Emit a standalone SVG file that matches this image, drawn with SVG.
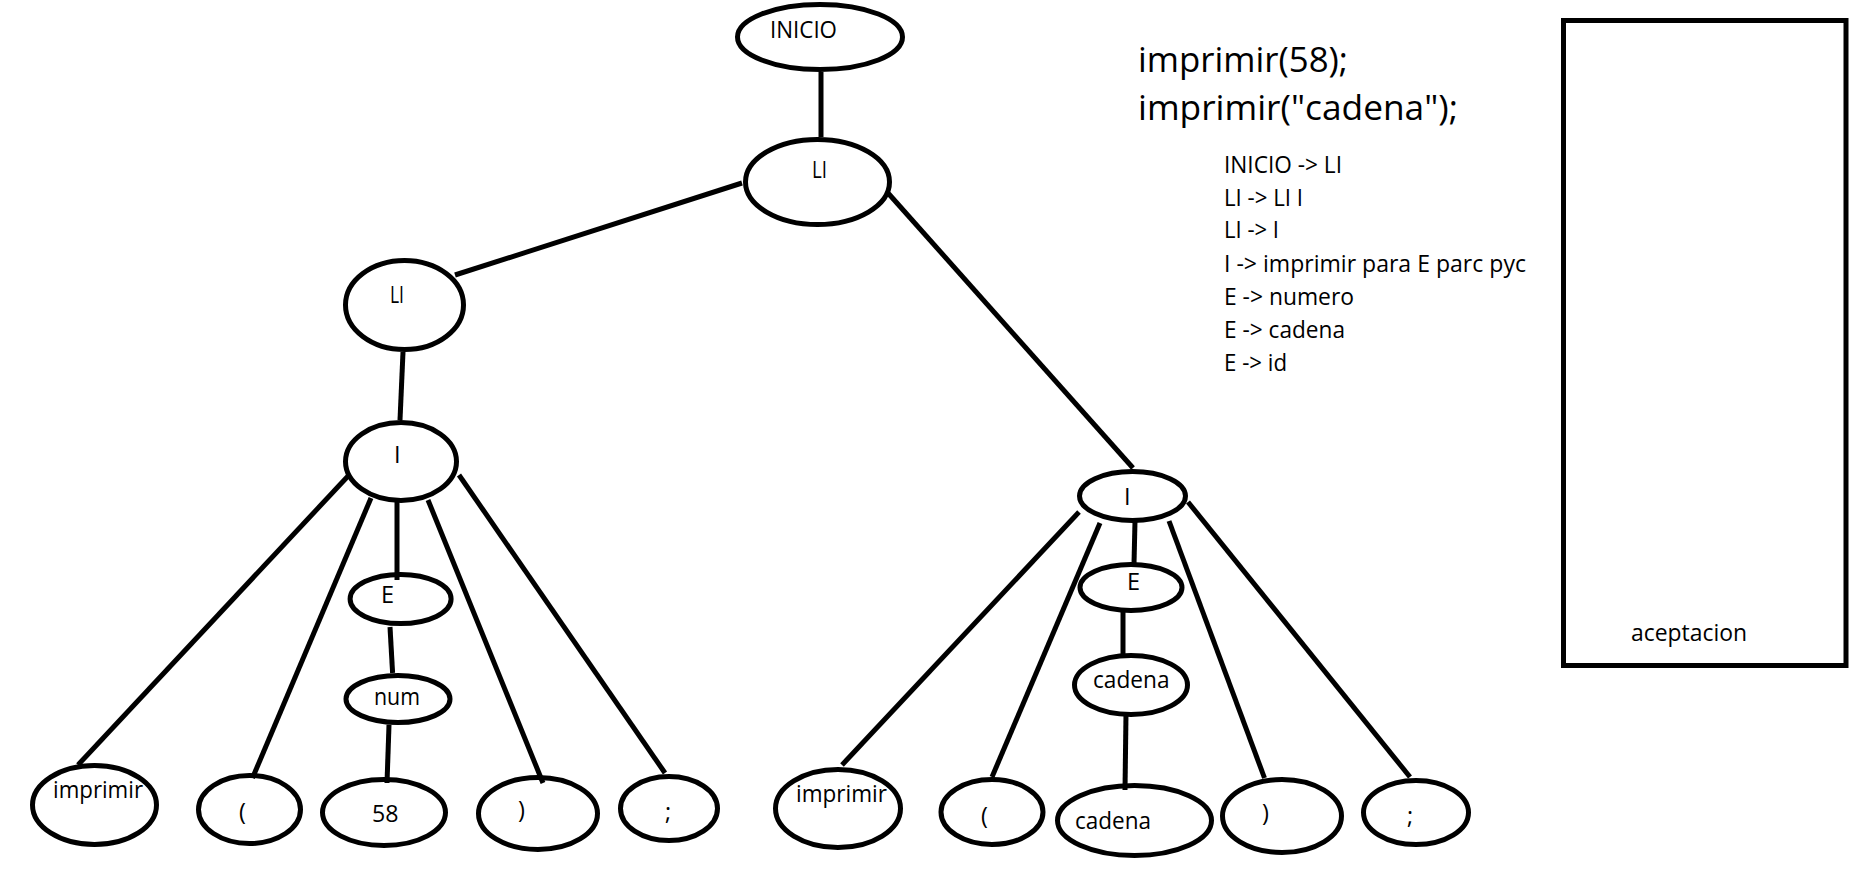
<svg xmlns="http://www.w3.org/2000/svg" width="1865" height="878" viewBox="0 0 1865 878">
<style>
.n{fill:none;stroke:#000;stroke-width:5}
.c line{stroke:#000;stroke-width:5;stroke-linecap:butt}
text{font-family:"Open Sans","Noto Sans","Liberation Sans",sans-serif;fill:#000}
.t{font-size:23.5px}
.b{font-size:35px}
</style>
<rect width="1865" height="878" fill="#fff"/>
<g class="c" id="connectors">
<line x1="821" y1="72" x2="821" y2="137"/>
<line x1="742" y1="183" x2="455" y2="275"/>
<line x1="888" y1="193" x2="1133" y2="468"/>
<line x1="403" y1="352" x2="400" y2="420"/>
<line x1="349" y1="475" x2="78" y2="765"/>
<line x1="371" y1="498" x2="252.5" y2="778"/>
<line x1="397" y1="498" x2="397" y2="580"/>
<line x1="390" y1="627" x2="392.6" y2="673"/>
<line x1="389" y1="725" x2="387" y2="783"/>
<line x1="428" y1="500" x2="543" y2="783"/>
<line x1="459" y1="475" x2="665" y2="773"/>
<line x1="1079" y1="512" x2="842" y2="765"/>
<line x1="1100" y1="523" x2="992" y2="777"/>
<line x1="1135" y1="521" x2="1134" y2="564"/>
<line x1="1123" y1="610" x2="1123" y2="656"/>
<line x1="1126" y1="714" x2="1125" y2="790"/>
<line x1="1169" y1="521" x2="1264.5" y2="778"/>
<line x1="1188" y1="502" x2="1410" y2="777"/>
</g>
<g id="n-inicio"><ellipse class="n" cx="820" cy="37" rx="82.5" ry="32.5"/><text class="t" x="770" y="38" textLength="67" lengthAdjust="spacingAndGlyphs">INICIO</text></g>
<g id="n-li-top"><ellipse class="n" cx="817.5" cy="182" rx="72" ry="42.5"/><text class="t" x="812" y="178" textLength="15" lengthAdjust="spacingAndGlyphs">LI</text></g>
<g id="n-li-left"><ellipse class="n" cx="404.5" cy="305" rx="59" ry="44.5"/><text class="t" x="390" y="303" textLength="14" lengthAdjust="spacingAndGlyphs">LI</text></g>
<g id="n-i-left"><ellipse class="n" cx="401" cy="461.5" rx="55.5" ry="39"/><text class="t" x="394" y="463">I</text></g>
<g id="n-e-left"><ellipse class="n" cx="400.6" cy="599" rx="50.5" ry="24.6"/><text class="t" x="381" y="603">E</text></g>
<g id="n-num"><ellipse class="n" cx="398" cy="699" rx="52" ry="23.5"/><text class="t" x="374" y="705" textLength="46" lengthAdjust="spacingAndGlyphs">num</text></g>
<g id="n-58"><ellipse class="n" cx="384" cy="812.5" rx="61.5" ry="33"/><text class="t" x="372" y="822" textLength="26.5" lengthAdjust="spacingAndGlyphs">58</text></g>
<g id="n-imprimir-left"><ellipse class="n" cx="94.5" cy="805" rx="62" ry="39.5"/><text class="t" x="53" y="798" textLength="90" lengthAdjust="spacingAndGlyphs">imprimir</text></g>
<g id="n-lpar-left"><ellipse class="n" cx="249.5" cy="809.5" rx="51" ry="34"/><text class="t" x="239" y="820">(</text></g>
<g id="n-rpar-left"><ellipse class="n" cx="538" cy="813.5" rx="59.5" ry="36"/><text class="t" x="518" y="818">)</text></g>
<g id="n-semi-left"><ellipse class="n" cx="669" cy="808.5" rx="48.5" ry="32"/><text class="t" x="665" y="820">;</text></g>
<g id="n-i-right"><ellipse class="n" cx="1132.5" cy="496" rx="53" ry="24.5"/><text class="t" x="1124" y="505">I</text></g>
<g id="n-e-right"><ellipse class="n" cx="1131" cy="587.5" rx="51" ry="23"/><text class="t" x="1127" y="590">E</text></g>
<g id="n-cadena-mid"><ellipse class="n" cx="1131" cy="685" rx="56.5" ry="29.5"/><text class="t" x="1093" y="688" textLength="76.5" lengthAdjust="spacingAndGlyphs">cadena</text></g>
<g id="n-cadena-bot"><ellipse class="n" cx="1134.5" cy="820.5" rx="77" ry="35"/><text class="t" x="1075" y="829" textLength="76" lengthAdjust="spacingAndGlyphs">cadena</text></g>
<g id="n-imprimir-right"><ellipse class="n" cx="838" cy="808.5" rx="62.5" ry="39"/><text class="t" x="796" y="802" textLength="91" lengthAdjust="spacingAndGlyphs">imprimir</text></g>
<g id="n-lpar-right"><ellipse class="n" cx="992" cy="812" rx="51" ry="32.5"/><text class="t" x="981" y="824">(</text></g>
<g id="n-rpar-right"><ellipse class="n" cx="1282" cy="816" rx="59.5" ry="36.5"/><text class="t" x="1262" y="821">)</text></g>
<g id="n-semi-right"><ellipse class="n" cx="1416" cy="812.5" rx="52.5" ry="32"/><text class="t" x="1407" y="824">;</text></g>
<g id="code">
<text class="b" x="1138" y="72" textLength="210" lengthAdjust="spacingAndGlyphs">imprimir(58);</text>
<text class="b" x="1138" y="120" textLength="320" lengthAdjust="spacingAndGlyphs">imprimir("cadena");</text>
</g>
<g id="grammar">
<text class="t" x="1224" y="173" textLength="118" lengthAdjust="spacingAndGlyphs">INICIO -&gt; LI</text>
<text class="t" x="1224" y="206" textLength="79" lengthAdjust="spacingAndGlyphs">LI -&gt; LI I</text>
<text class="t" x="1224" y="238" textLength="55" lengthAdjust="spacingAndGlyphs">LI -&gt; I</text>
<text class="t" x="1224" y="272" textLength="302" lengthAdjust="spacingAndGlyphs">I -&gt; imprimir para E parc pyc</text>
<text class="t" x="1224" y="305" textLength="130" lengthAdjust="spacingAndGlyphs">E -&gt; numero</text>
<text class="t" x="1224" y="338" textLength="121" lengthAdjust="spacingAndGlyphs">E -&gt; cadena</text>
<text class="t" x="1224" y="371" textLength="63" lengthAdjust="spacingAndGlyphs">E -&gt; id</text>
</g>
<g id="n-aceptacion">
<rect x="1563.5" y="20.5" width="282.5" height="645" fill="none" stroke="#000" stroke-width="5"/>
<text class="t" x="1631" y="641" textLength="116" lengthAdjust="spacingAndGlyphs">aceptacion</text>
</g>
</svg>
